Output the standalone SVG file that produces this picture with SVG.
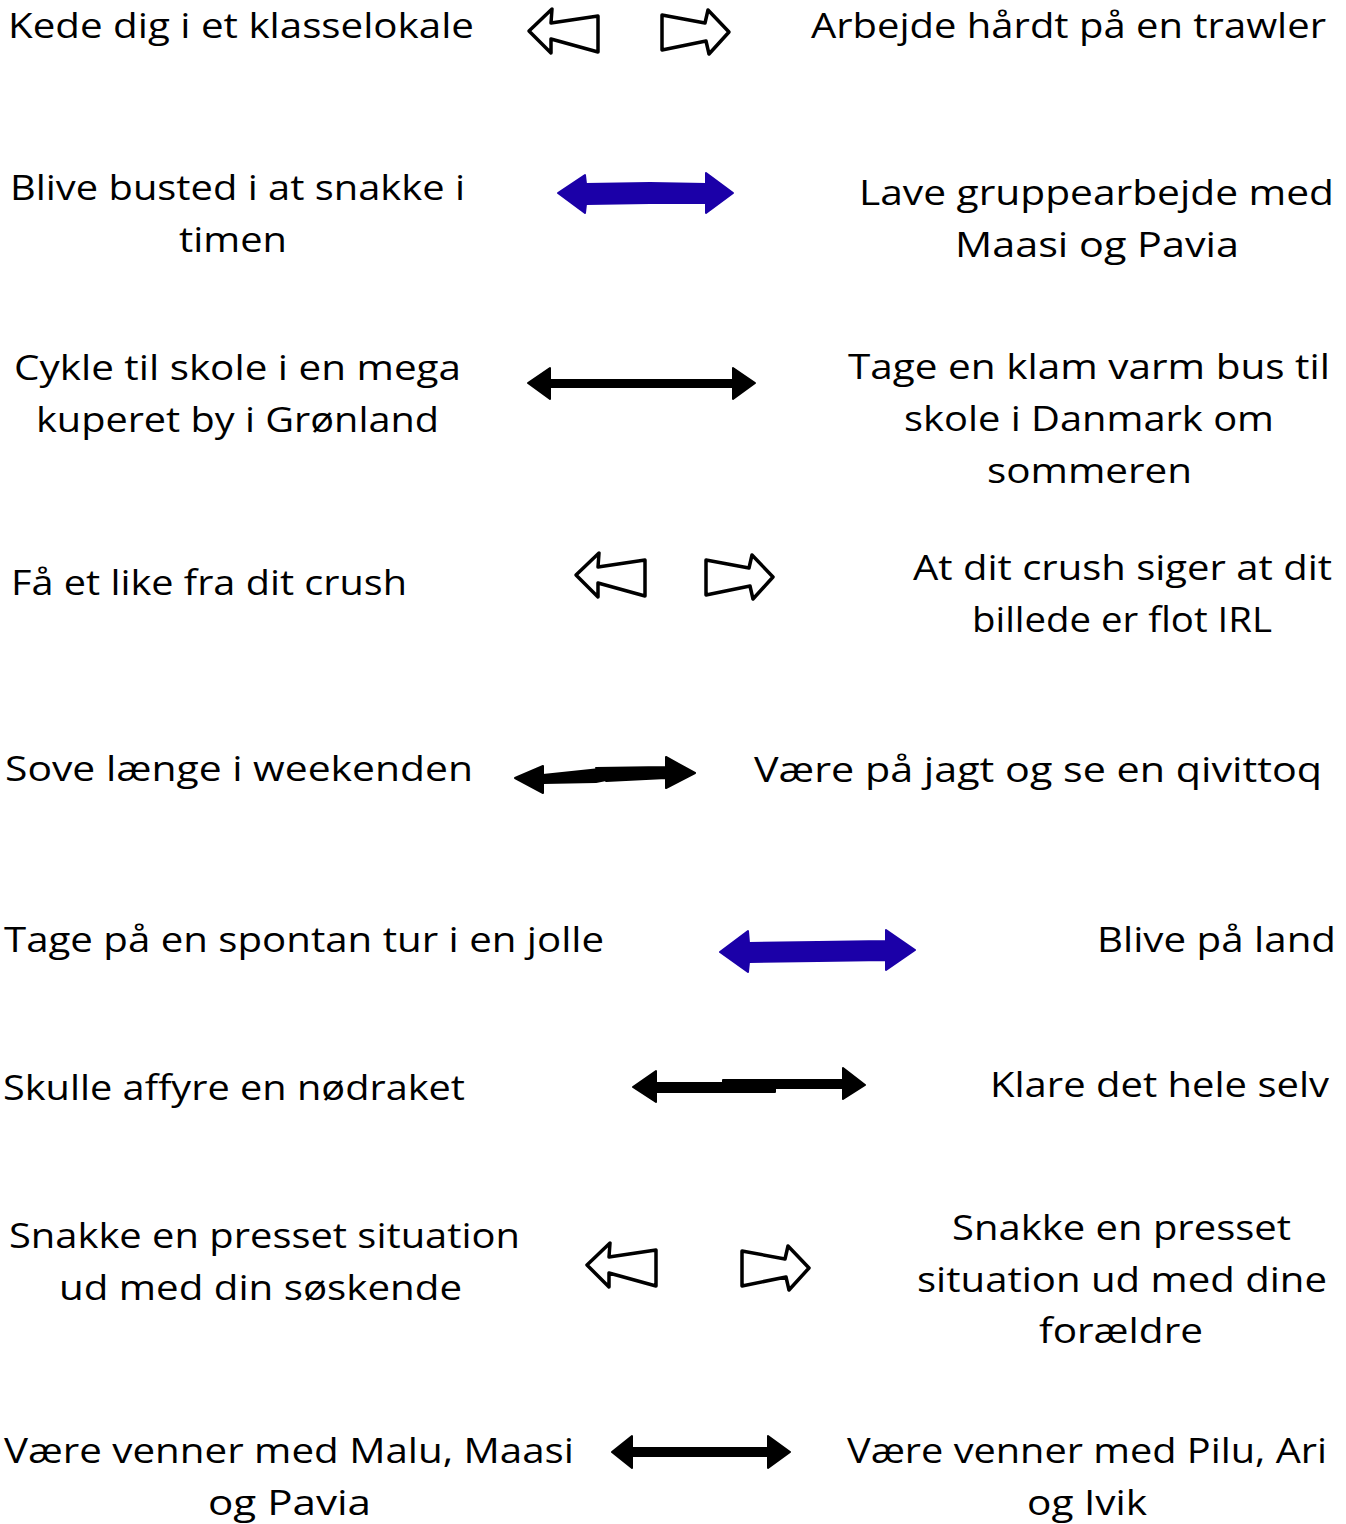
<svg xmlns="http://www.w3.org/2000/svg" width="1346" height="1524" viewBox="0 0 1346 1524">
<style>
text{font-family:"Open Sans","Noto Sans","DejaVu Sans",sans-serif;font-size:34px;fill:#000;}
.hollow{fill:#fff;stroke:#000;stroke-width:3.5;stroke-linejoin:round;}
.blk{fill:#000;stroke:#000;stroke-width:2;stroke-linejoin:round;}
.blue{fill:#1b00a8;stroke:#1b00a8;stroke-width:2;stroke-linejoin:round;}
</style>
<defs>
<polygon id="hl" points="529,31 552,9 551,23 598,16 598,52 551,39 551,53"/>
<polygon id="hr" points="662,15 705,23 708,10 729,32 709,54 706,41 662,50"/>
</defs>
<rect width="1346" height="1524" fill="#fff"/>
<g id="left-labels">
<g id="n1l"><text x="8" y="38" textLength="466" lengthAdjust="spacingAndGlyphs">Kede dig i et klasselokale</text></g>
<g id="n2l"><text x="10" y="200" textLength="455" lengthAdjust="spacingAndGlyphs">Blive busted i at snakke i</text><text x="179" y="252" textLength="108" lengthAdjust="spacingAndGlyphs">timen</text></g>
<g id="n3l"><text x="14" y="380" textLength="447" lengthAdjust="spacingAndGlyphs">Cykle til skole i en mega</text><text x="36" y="432" textLength="403" lengthAdjust="spacingAndGlyphs">kuperet by i Grønland</text></g>
<g id="n4l"><text x="11" y="595" textLength="396" lengthAdjust="spacingAndGlyphs">Få et like fra dit crush</text></g>
<g id="n5l"><text x="5" y="781" textLength="468" lengthAdjust="spacingAndGlyphs">Sove længe i weekenden</text></g>
<g id="n6l"><text x="4" y="952" textLength="600" lengthAdjust="spacingAndGlyphs">Tage på en spontan tur i en jolle</text></g>
<g id="n7l"><text x="3" y="1100" textLength="462" lengthAdjust="spacingAndGlyphs">Skulle affyre en nødraket</text></g>
<g id="n8l"><text x="9" y="1248" textLength="511" lengthAdjust="spacingAndGlyphs">Snakke en presset situation</text><text x="59" y="1300" textLength="403" lengthAdjust="spacingAndGlyphs">ud med din søskende</text></g>
<g id="n9l"><text x="4" y="1463" textLength="570" lengthAdjust="spacingAndGlyphs">Være venner med Malu, Maasi</text><text x="208" y="1515" textLength="163" lengthAdjust="spacingAndGlyphs">og Pavia</text></g>
</g>
<g id="right-labels">
<g id="n1r"><text x="811" y="38" textLength="515" lengthAdjust="spacingAndGlyphs">Arbejde hårdt på en trawler</text></g>
<g id="n2r"><text x="859" y="205" textLength="475" lengthAdjust="spacingAndGlyphs">Lave gruppearbejde med</text><text x="955" y="257" textLength="284" lengthAdjust="spacingAndGlyphs">Maasi og Pavia</text></g>
<g id="n3r"><text x="848" y="379" textLength="482" lengthAdjust="spacingAndGlyphs">Tage en klam varm bus til</text><text x="904" y="431" textLength="370" lengthAdjust="spacingAndGlyphs">skole i Danmark om</text><text x="987" y="483" textLength="205" lengthAdjust="spacingAndGlyphs">sommeren</text></g>
<g id="n4r"><text x="913" y="580" textLength="419" lengthAdjust="spacingAndGlyphs">At dit crush siger at dit</text><text x="972" y="632" textLength="300" lengthAdjust="spacingAndGlyphs">billede er flot IRL</text></g>
<g id="n5r"><text x="754" y="782" textLength="568" lengthAdjust="spacingAndGlyphs">Være på jagt og se en qivittoq</text></g>
<g id="n6r"><text x="1097" y="952" textLength="239" lengthAdjust="spacingAndGlyphs">Blive på land</text></g>
<g id="n7r"><text x="990" y="1097" textLength="339" lengthAdjust="spacingAndGlyphs">Klare det hele selv</text></g>
<g id="n8r"><text x="952" y="1240" textLength="339" lengthAdjust="spacingAndGlyphs">Snakke en presset</text><text x="917" y="1292" textLength="410" lengthAdjust="spacingAndGlyphs">situation ud med dine</text><text x="1039" y="1343" textLength="164" lengthAdjust="spacingAndGlyphs">forældre</text></g>
<g id="n9r"><text x="847" y="1463" textLength="480" lengthAdjust="spacingAndGlyphs">Være venner med Pilu, Ari</text><text x="1027" y="1515" textLength="120" lengthAdjust="spacingAndGlyphs">og Ivik</text></g>
</g>
<g id="connectors">
<g id="c1"><use href="#hl" class="hollow"/><use href="#hr" class="hollow"/></g>
<path id="c2" class="blue" d="M558,193 L585,175 L586,184 L650,183 L706,184 L706,173 L733,193 L706,213 L706,203 L650,203 L586,204 L585,213 Z"/>
<path id="c3" class="blk" d="M528,383 L550,368 L550,380 L733,380 L733,368 L755,383 L733,399 L733,387 L550,387 L550,399 Z"/>
<g id="c4"><use href="#hl" class="hollow" transform="translate(47,544)"/><use href="#hr" class="hollow" transform="translate(44,545)"/></g>
<g id="c5">
<polygon class="blk" points="515,778 543,766 543,775 600,769 606,769 606,780 596,782 543,783 543,793"/>
<polygon class="blk" points="596,768 666,767 666,757 695,773 666,788 666,778 606,781"/>
</g>
<path id="c6" class="blue" d="M720,952 L748,931 L749,943 L818,942 L886,941 L886,930 L915,950 L886,970 L886,960 L818,961 L749,962 L748,972 Z"/>
<path id="c7" class="blk" d="M633,1087 L656,1071 L656,1083 L723,1083 L723,1080 L843,1080 L843,1068 L865,1085 L843,1099 L843,1088 L775,1088 L775,1092 L656,1092 L656,1102 Z"/>
<path id="c8" class="blk" d="M612,1452 L632,1436 L632,1448 L768,1448 L768,1436 L790,1452 L768,1468 L768,1456 L632,1456 L632,1468 Z"/>
<g id="c9"><use href="#hl" class="hollow" transform="translate(58,1234)"/><use href="#hr" class="hollow" transform="translate(80,1236)"/></g>
</g>
</svg>
